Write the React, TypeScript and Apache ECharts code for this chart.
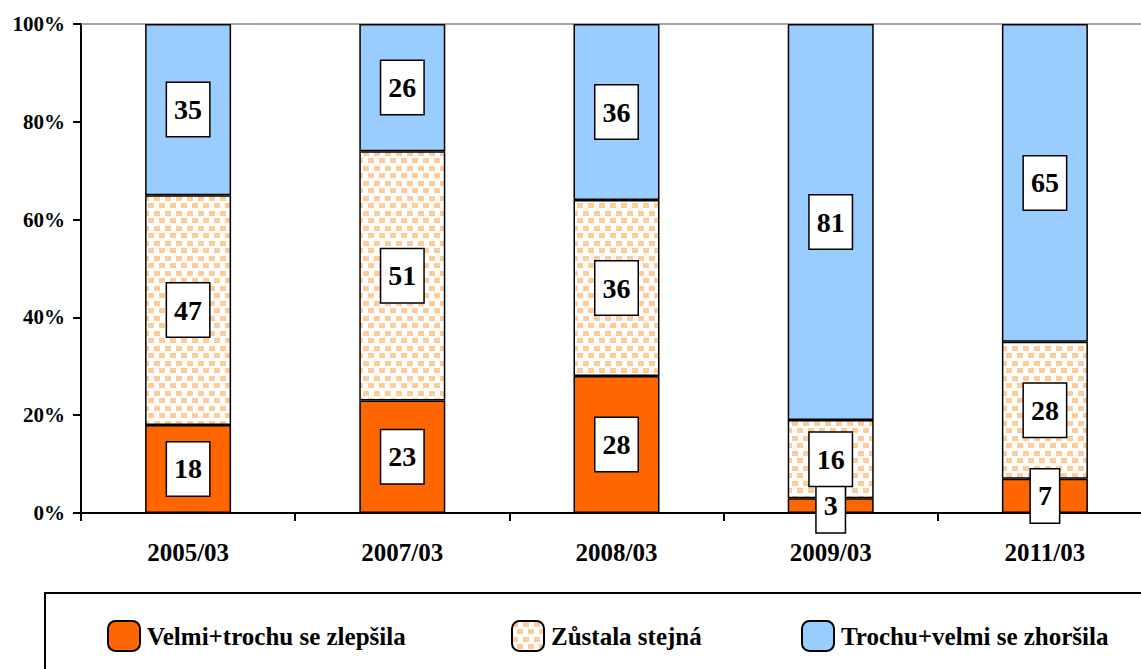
import React, { useEffect, useRef } from "react";
import * as echarts from "echarts";

const categories = ["2005/03", "2007/03", "2008/03", "2009/03", "2011/03"];
const seriesNames = ["Velmi+trochu se zlepšila", "Zůstala stejná", "Trochu+velmi se zhoršila"];
const improved = [18, 23, 28, 3, 7];
const same = [47, 51, 36, 16, 28];
const worse = [35, 26, 36, 81, 65];
const yTicks = [0, 20, 40, 60, 80, 100];

const FONT = "Times New Roman, serif";

function makePattern() {
  const c = document.createElement("canvas");
  c.width = 11;
  c.height = 15;
  const ctx = c.getContext("2d")!;
  ctx.fillStyle = "#ffffff";
  ctx.fillRect(0, 0, 11, 15);
  ctx.fillStyle = "#FFCC99";
  ctx.fillRect(0, 1, 6, 5);
  ctx.fillRect(5, 8, 6, 5);
  return { image: c, repeat: "repeat", imageWidth: 11, imageHeight: 15 } as any;
}

export default function App() {
  const ref = useRef<HTMLDivElement>(null);
  useEffect(() => {
    if (!ref.current) return;
    const chart = echarts.init(ref.current, null, { renderer: "svg" });
    const pattern = makePattern();
    const colors = ["#FF6600", pattern, "#99CCFF"];
    const values = [improved, same, worse];
    const label = {
      show: true,
      position: "inside",
      formatter: "{c}",
      backgroundColor: "#ffffff",
      borderColor: "#000000",
      borderWidth: 1.5,
      padding: [12, 7, 11, 7],
      fontSize: 28,
      lineHeight: 30,
      fontWeight: "bold",
      fontFamily: FONT,
      color: "#000000",
    };
    const legendBase = {
      top: 620,
      itemWidth: 32,
      itemHeight: 30,
      padding: 0,
      itemGap: 0,
      textStyle: { fontSize: 25, fontWeight: "bold", fontFamily: FONT, color: "#000", padding: [0, 0, 0, 2] },
      selectedMode: false,
    };
    chart.setOption({
      animation: false,
      backgroundColor: "#ffffff",
      textStyle: { fontFamily: FONT },
      grid: { left: 81, top: 24, width: 1071, height: 489, containLabel: false },
      legend: [
        { ...legendBase, left: 107, data: [seriesNames[0]] },
        { ...legendBase, left: 511, data: [seriesNames[1]] },
        { ...legendBase, left: 801, data: [seriesNames[2]] },
      ],
      xAxis: [
        {
          type: "category",
          data: categories,
          position: "bottom",
          axisLine: { lineStyle: { color: "#000", width: 2 } },
          axisTick: { show: true, alignWithLabel: false, length: 8, lineStyle: { color: "#000", width: 2 } },
          axisLabel: { fontSize: 25, fontWeight: "bold", fontFamily: FONT, color: "#000", margin: 27 },
        },
        {
          type: "category",
          data: categories,
          position: "top",
          axisLine: { lineStyle: { color: "#888", width: 1.5 } },
          axisTick: { show: false },
          axisLabel: { show: false },
        },
      ],
      yAxis: {
        type: "value",
        min: yTicks[0],
        max: yTicks[yTicks.length - 1],
        interval: yTicks[1] - yTicks[0],
        axisLine: { show: true, lineStyle: { color: "#000", width: 2 } },
        axisTick: { show: true, length: 8, lineStyle: { color: "#000", width: 2 } },
        splitLine: { show: false },
        axisLabel: { formatter: "{value}%", fontSize: 21, fontWeight: "bold", fontFamily: FONT, color: "#000", margin: 16 },
      },
      series: seriesNames.map((name, i) => ({
        name,
        type: "bar",
        stack: "total",
        barWidth: 86,
        data: values[i],
        itemStyle: { color: colors[i], borderColor: "#000", borderWidth: 1.5 },
        label,
      })),
      graphic: [
        {
          type: "rect",
          shape: { x: 45, y: 593, width: 1200, height: 200 },
          style: { fill: "none", stroke: "#000", lineWidth: 2 },
          silent: true,
        },
      ],
    });
    return () => chart.dispose();
  }, []);
  return (
    <div style={{ position: "fixed", left: 0, top: 0, width: 1141, height: 669, overflow: "hidden" }}>
      <div ref={ref} style={{ width: 1160, height: 669 }} />
    </div>
  );
}
